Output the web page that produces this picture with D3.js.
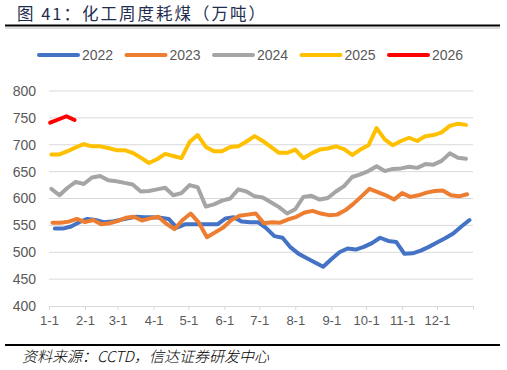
<!DOCTYPE html>
<html>
<head>
<meta charset="utf-8">
<script src="https://cdn.jsdelivr.net/npm/d3@7"></script>
<style>
  body { margin: 0; background: #fff; }
  svg { display: block; }
</style>
</head>
<body>
<svg id="chart" width="507" height="370"></svg>
<script>
// weekly series, one value per week starting from the date in starts
const years = ["2022", "2023", "2024", "2025", "2026"];
const starts = ["01-06", "01-04", "01-03", "01-03", "01-02"];

const v2022 = [544, 544, 548, 556, 562, 560, 556, 557, 560, 563,
    566, 565, 565, 564, 562, 546, 552, 552, 552, 552,
    552, 563, 565, 557, 556, 556, 545, 530, 527, 509,
    497, 489, 481, 473, 487, 500, 507, 505, 510, 517,
    527, 521, 519, 497, 498, 503, 510, 518, 526, 535,
    548, 560];
const v2023 = [555, 555, 557, 562, 556, 560, 552, 554, 558, 564,
    566, 559, 563, 566, 553, 543, 560, 572, 555, 528,
    537, 546, 560, 568, 570, 572, 554, 556, 555, 561,
    566, 574, 577, 572, 569, 570, 578, 590, 604, 618,
    612, 606, 598, 610, 603, 606, 611, 614, 615, 606,
    604, 608];
const v2024 = [618, 606, 620, 631, 627, 639, 642, 634, 632, 629,
    626, 613, 614, 617, 620, 606, 610, 625, 621, 585,
    589, 596, 600, 617, 613, 604, 602, 593, 584, 572,
    580, 603, 605, 598, 601, 613, 623, 640, 645, 651,
    660, 651, 655, 656, 659, 657, 664, 663, 670, 684,
    676, 674];
const v2025 = [682, 682, 688, 695, 701, 697, 697, 694, 690, 690,
    685, 676, 666, 673, 683, 679, 675, 705, 718, 696,
    688, 688, 696, 697, 706, 716, 707, 696, 685, 685,
    691, 675, 684, 691, 693, 697, 692, 681, 691, 699,
    731, 710, 699, 707, 713, 707, 716, 718, 723, 735,
    739, 737];
const v2026 = [741, 747, 753, 746];

const seriesValues = [v2022, v2023, v2024, v2025, v2026];
const colors = ["#4472C4", "#ED7D31", "#A5A5A5", "#FFC000", "#FF0000"];
const yTicks = [400, 450, 500, 550, 600, 650, 700, 750, 800];

const title = "图 41：化工周度耗煤（万吨）";
const source = "资料来源：CCTD，信达证券研发中心";

const svg = d3.select("#chart");
const margin = {top: 91, right: 34, bottom: 64, left: 49};
const width = 507, height = 370;

// all years are placed on one calendar year
const refYear = 2023;
const parse = d3.timeParse("%Y-%m-%d");
const series = years.map((y, k) => {
    const s = parse(refYear + "-" + starts[k]);
    return {
        year: y,
        color: colors[k],
        points: seriesValues[k].map((v, i) => ({date: d3.timeDay.offset(s, 7 * i), value: v}))
    };
});

const x = d3.scaleTime()
    .domain([new Date(refYear, 0, 1), new Date(refYear + 1, 0, 1)])
    .range([margin.left, width - margin.right]);
const y = d3.scaleLinear()
    .domain([400, 800])
    .range([height - margin.bottom, margin.top]);

// title and rules
svg.append("text")
    .attr("x", 17).attr("y", 20)
    .attr("font-family", "'Noto Sans CJK SC', sans-serif")
    .attr("font-size", 16.5)
    .attr("letter-spacing", 2)
    .attr("fill", "#1f2d50")
    .text(title);
svg.append("line").attr("x1", 5).attr("x2", 500).attr("y1", 25.5).attr("y2", 25.5)
    .attr("stroke", "#000").attr("stroke-width", 2);
svg.append("line").attr("x1", 5).attr("x2", 500).attr("y1", 28).attr("y2", 28)
    .attr("stroke", "#bbb").attr("stroke-width", 1);

// gridlines
svg.append("g")
    .selectAll("line")
    .data(yTicks.filter(d => d > 400))
    .join("line")
    .attr("x1", margin.left).attr("x2", width - margin.right)
    .attr("y1", d => y(d)).attr("y2", d => y(d))
    .attr("stroke", "#d9d9d9").attr("stroke-width", 1);

// y axis labels
const yAxis = g => g
    .attr("transform", `translate(${margin.left},0)`)
    .call(d3.axisLeft(y).tickValues(yTicks).tickSize(0).tickPadding(13))
    .call(g => g.select(".domain").remove())
    .call(g => g.selectAll("text")
        .attr("font-family", "'Liberation Sans', Arial, sans-serif")
        .attr("font-size", 14)
        .attr("fill", "#595959"));
svg.append("g").call(yAxis);

// x axis
const months = d3.timeMonth.range(new Date(refYear, 0, 1), new Date(refYear + 1, 0, 2));
const xAxis = g => g
    .attr("transform", `translate(0,${y(400)})`)
    .call(d3.axisBottom(x).tickValues(months).tickSize(4).tickPadding(6)
        .tickFormat(d => d.getFullYear() > refYear ? "" : (d.getMonth() + 1) + "-1"))
    .call(g => g.select(".domain").attr("stroke", "#d9d9d9"))
    .call(g => g.selectAll(".tick line").attr("stroke", "#d9d9d9"))
    .call(g => g.selectAll("text")
        .attr("font-family", "'Liberation Sans', Arial, sans-serif")
        .attr("font-size", 13)
        .attr("fill", "#595959"));
svg.append("g").call(xAxis);

// series lines
const line = d3.line()
    .x(d => x(d.date))
    .y(d => y(d.value));

svg.append("g")
    .selectAll("path")
    .data(series)
    .join("path")
    .attr("fill", "none")
    .attr("stroke", d => d.color)
    .attr("stroke-width", 4)
    .attr("stroke-linejoin", "round")
    .attr("stroke-linecap", "round")
    .attr("d", d => line(d.points));

// legend
const legend = svg.append("g")
    .selectAll("g")
    .data(series)
    .join("g")
    .attr("transform", (d, i) => `translate(${39 + i * 87.5},55)`);
legend.append("line")
    .attr("x1", 0).attr("x2", 39)
    .attr("stroke", d => d.color)
    .attr("stroke-width", 4)
    .attr("stroke-linecap", "round");
legend.append("text")
    .attr("x", 43).attr("y", 5)
    .attr("font-family", "'Liberation Sans', Arial, sans-serif")
    .attr("font-size", 14)
    .attr("fill", "#595959")
    .text(d => d.year);

// source footer
svg.append("line").attr("x1", 5).attr("x2", 500).attr("y1", 345).attr("y2", 345)
    .attr("stroke", "#000").attr("stroke-width", 2);
svg.append("text")
    .attr("x", 22).attr("y", 362)
    .attr("font-family", "'Noto Sans CJK SC', sans-serif")
    .attr("font-size", 15)
    .attr("font-style", "italic")
    .attr("font-weight", 300)
    .attr("fill", "#000")
    .text(source);
</script>
</body>
</html>
